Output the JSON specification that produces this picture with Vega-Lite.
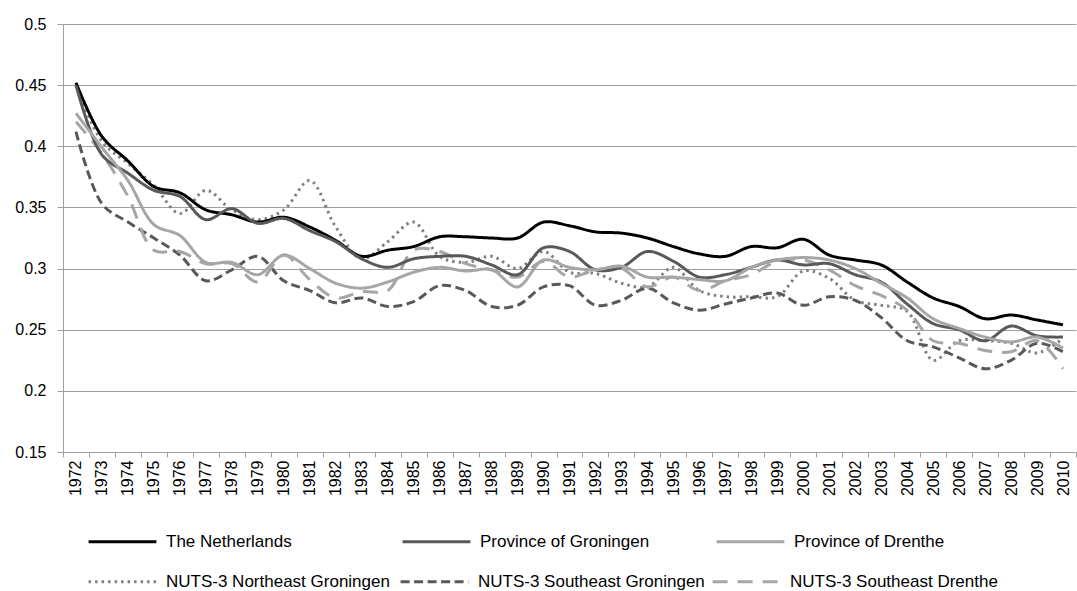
{
  "$schema": "https://vega.github.io/schema/vega-lite/v6.json",
  "width": 1013,
  "height": 428,
  "autosize": {"type": "none"},
  "padding": {"left": 63, "top": 24, "right": 1, "bottom": 139},
  "background": "white",
  "config": {"view": {"stroke": null}, "font": "Liberation Sans"},
  "data": {"values": [
    {"year":1972,"series":"The Netherlands","value":0.452},{"year":1972,"series":"Province of Groningen","value":0.450},{"year":1972,"series":"Province of Drenthe","value":0.427},{"year":1972,"series":"NUTS-3 Northeast Groningen","value":0.450},{"year":1972,"series":"NUTS-3 Southeast Groningen","value":0.412},{"year":1972,"series":"NUTS-3 Southeast Drenthe","value":0.420},
    {"year":1973,"series":"The Netherlands","value":0.408},{"year":1973,"series":"Province of Groningen","value":0.393},{"year":1973,"series":"Province of Drenthe","value":0.399},{"year":1973,"series":"NUTS-3 Northeast Groningen","value":0.404},{"year":1973,"series":"NUTS-3 Southeast Groningen","value":0.353},{"year":1973,"series":"NUTS-3 Southeast Drenthe","value":0.394},
    {"year":1974,"series":"The Netherlands","value":0.388},{"year":1974,"series":"Province of Groningen","value":0.378},{"year":1974,"series":"Province of Drenthe","value":0.372},{"year":1974,"series":"NUTS-3 Northeast Groningen","value":0.386},{"year":1974,"series":"NUTS-3 Southeast Groningen","value":0.338},{"year":1974,"series":"NUTS-3 Southeast Drenthe","value":0.359},
    {"year":1975,"series":"The Netherlands","value":0.367},{"year":1975,"series":"Province of Groningen","value":0.364},{"year":1975,"series":"Province of Drenthe","value":0.336},{"year":1975,"series":"NUTS-3 Northeast Groningen","value":0.368},{"year":1975,"series":"NUTS-3 Southeast Groningen","value":0.325},{"year":1975,"series":"NUTS-3 Southeast Drenthe","value":0.315},
    {"year":1976,"series":"The Netherlands","value":0.362},{"year":1976,"series":"Province of Groningen","value":0.359},{"year":1976,"series":"Province of Drenthe","value":0.327},{"year":1976,"series":"NUTS-3 Northeast Groningen","value":0.345},{"year":1976,"series":"NUTS-3 Southeast Groningen","value":0.311},{"year":1976,"series":"NUTS-3 Southeast Drenthe","value":0.314},
    {"year":1977,"series":"The Netherlands","value":0.348},{"year":1977,"series":"Province of Groningen","value":0.340},{"year":1977,"series":"Province of Drenthe","value":0.305},{"year":1977,"series":"NUTS-3 Northeast Groningen","value":0.364},{"year":1977,"series":"NUTS-3 Southeast Groningen","value":0.290},{"year":1977,"series":"NUTS-3 Southeast Drenthe","value":0.304},
    {"year":1978,"series":"The Netherlands","value":0.344},{"year":1978,"series":"Province of Groningen","value":0.349},{"year":1978,"series":"Province of Drenthe","value":0.305},{"year":1978,"series":"NUTS-3 Northeast Groningen","value":0.348},{"year":1978,"series":"NUTS-3 Southeast Groningen","value":0.299},{"year":1978,"series":"NUTS-3 Southeast Drenthe","value":0.304},
    {"year":1979,"series":"The Netherlands","value":0.338},{"year":1979,"series":"Province of Groningen","value":0.337},{"year":1979,"series":"Province of Drenthe","value":0.295},{"year":1979,"series":"NUTS-3 Northeast Groningen","value":0.340},{"year":1979,"series":"NUTS-3 Southeast Groningen","value":0.310},{"year":1979,"series":"NUTS-3 Southeast Drenthe","value":0.289},
    {"year":1980,"series":"The Netherlands","value":0.342},{"year":1980,"series":"Province of Groningen","value":0.341},{"year":1980,"series":"Province of Drenthe","value":0.311},{"year":1980,"series":"NUTS-3 Northeast Groningen","value":0.348},{"year":1980,"series":"NUTS-3 Southeast Groningen","value":0.290},{"year":1980,"series":"NUTS-3 Southeast Drenthe","value":0.311},
    {"year":1981,"series":"The Netherlands","value":0.334},{"year":1981,"series":"Province of Groningen","value":0.331},{"year":1981,"series":"Province of Drenthe","value":0.300},{"year":1981,"series":"NUTS-3 Northeast Groningen","value":0.372},{"year":1981,"series":"NUTS-3 Southeast Groningen","value":0.282},{"year":1981,"series":"NUTS-3 Southeast Drenthe","value":0.291},
    {"year":1982,"series":"The Netherlands","value":0.323},{"year":1982,"series":"Province of Groningen","value":0.322},{"year":1982,"series":"Province of Drenthe","value":0.288},{"year":1982,"series":"NUTS-3 Northeast Groningen","value":0.334},{"year":1982,"series":"NUTS-3 Southeast Groningen","value":0.272},{"year":1982,"series":"NUTS-3 Southeast Drenthe","value":0.276},
    {"year":1983,"series":"The Netherlands","value":0.310},{"year":1983,"series":"Province of Groningen","value":0.308},{"year":1983,"series":"Province of Drenthe","value":0.284},{"year":1983,"series":"NUTS-3 Northeast Groningen","value":0.308},{"year":1983,"series":"NUTS-3 Southeast Groningen","value":0.276},{"year":1983,"series":"NUTS-3 Southeast Drenthe","value":0.281},
    {"year":1984,"series":"The Netherlands","value":0.315},{"year":1984,"series":"Province of Groningen","value":0.301},{"year":1984,"series":"Province of Drenthe","value":0.289},{"year":1984,"series":"NUTS-3 Northeast Groningen","value":0.322},{"year":1984,"series":"NUTS-3 Southeast Groningen","value":0.269},{"year":1984,"series":"NUTS-3 Southeast Drenthe","value":0.282},
    {"year":1985,"series":"The Netherlands","value":0.318},{"year":1985,"series":"Province of Groningen","value":0.308},{"year":1985,"series":"Province of Drenthe","value":0.297},{"year":1985,"series":"NUTS-3 Northeast Groningen","value":0.338},{"year":1985,"series":"NUTS-3 Southeast Groningen","value":0.273},{"year":1985,"series":"NUTS-3 Southeast Drenthe","value":0.315},
    {"year":1986,"series":"The Netherlands","value":0.326},{"year":1986,"series":"Province of Groningen","value":0.310},{"year":1986,"series":"Province of Drenthe","value":0.301},{"year":1986,"series":"NUTS-3 Northeast Groningen","value":0.310},{"year":1986,"series":"NUTS-3 Southeast Groningen","value":0.286},{"year":1986,"series":"NUTS-3 Southeast Drenthe","value":0.314},
    {"year":1987,"series":"The Netherlands","value":0.326},{"year":1987,"series":"Province of Groningen","value":0.310},{"year":1987,"series":"Province of Drenthe","value":0.298},{"year":1987,"series":"NUTS-3 Northeast Groningen","value":0.305},{"year":1987,"series":"NUTS-3 Southeast Groningen","value":0.282},{"year":1987,"series":"NUTS-3 Southeast Drenthe","value":0.304},
    {"year":1988,"series":"The Netherlands","value":0.325},{"year":1988,"series":"Province of Groningen","value":0.303},{"year":1988,"series":"Province of Drenthe","value":0.299},{"year":1988,"series":"NUTS-3 Northeast Groningen","value":0.310},{"year":1988,"series":"NUTS-3 Southeast Groningen","value":0.269},{"year":1988,"series":"NUTS-3 Southeast Drenthe","value":0.299},
    {"year":1989,"series":"The Netherlands","value":0.325},{"year":1989,"series":"Province of Groningen","value":0.295},{"year":1989,"series":"Province of Drenthe","value":0.285},{"year":1989,"series":"NUTS-3 Northeast Groningen","value":0.300},{"year":1989,"series":"NUTS-3 Southeast Groningen","value":0.270},{"year":1989,"series":"NUTS-3 Southeast Drenthe","value":0.293},
    {"year":1990,"series":"The Netherlands","value":0.338},{"year":1990,"series":"Province of Groningen","value":0.317},{"year":1990,"series":"Province of Drenthe","value":0.307},{"year":1990,"series":"NUTS-3 Northeast Groningen","value":0.314},{"year":1990,"series":"NUTS-3 Southeast Groningen","value":0.285},{"year":1990,"series":"NUTS-3 Southeast Drenthe","value":0.306},
    {"year":1991,"series":"The Netherlands","value":0.335},{"year":1991,"series":"Province of Groningen","value":0.314},{"year":1991,"series":"Province of Drenthe","value":0.301},{"year":1991,"series":"NUTS-3 Northeast Groningen","value":0.297},{"year":1991,"series":"NUTS-3 Southeast Groningen","value":0.286},{"year":1991,"series":"NUTS-3 Southeast Drenthe","value":0.293},
    {"year":1992,"series":"The Netherlands","value":0.330},{"year":1992,"series":"Province of Groningen","value":0.299},{"year":1992,"series":"Province of Drenthe","value":0.299},{"year":1992,"series":"NUTS-3 Northeast Groningen","value":0.296},{"year":1992,"series":"NUTS-3 Southeast Groningen","value":0.270},{"year":1992,"series":"NUTS-3 Southeast Drenthe","value":0.299},
    {"year":1993,"series":"The Netherlands","value":0.329},{"year":1993,"series":"Province of Groningen","value":0.301},{"year":1993,"series":"Province of Drenthe","value":0.302},{"year":1993,"series":"NUTS-3 Northeast Groningen","value":0.288},{"year":1993,"series":"NUTS-3 Southeast Groningen","value":0.274},{"year":1993,"series":"NUTS-3 Southeast Drenthe","value":0.300},
    {"year":1994,"series":"The Netherlands","value":0.325},{"year":1994,"series":"Province of Groningen","value":0.314},{"year":1994,"series":"Province of Drenthe","value":0.293},{"year":1994,"series":"NUTS-3 Northeast Groningen","value":0.285},{"year":1994,"series":"NUTS-3 Southeast Groningen","value":0.284},{"year":1994,"series":"NUTS-3 Southeast Drenthe","value":0.285},
    {"year":1995,"series":"The Netherlands","value":0.318},{"year":1995,"series":"Province of Groningen","value":0.306},{"year":1995,"series":"Province of Drenthe","value":0.293},{"year":1995,"series":"NUTS-3 Northeast Groningen","value":0.301},{"year":1995,"series":"NUTS-3 Southeast Groningen","value":0.272},{"year":1995,"series":"NUTS-3 Southeast Drenthe","value":0.293},
    {"year":1996,"series":"The Netherlands","value":0.312},{"year":1996,"series":"Province of Groningen","value":0.293},{"year":1996,"series":"Province of Drenthe","value":0.291},{"year":1996,"series":"NUTS-3 Northeast Groningen","value":0.282},{"year":1996,"series":"NUTS-3 Southeast Groningen","value":0.266},{"year":1996,"series":"NUTS-3 Southeast Drenthe","value":0.282},
    {"year":1997,"series":"The Netherlands","value":0.310},{"year":1997,"series":"Province of Groningen","value":0.295},{"year":1997,"series":"Province of Drenthe","value":0.290},{"year":1997,"series":"NUTS-3 Northeast Groningen","value":0.277},{"year":1997,"series":"NUTS-3 Southeast Groningen","value":0.271},{"year":1997,"series":"NUTS-3 Southeast Drenthe","value":0.290},
    {"year":1998,"series":"The Netherlands","value":0.318},{"year":1998,"series":"Province of Groningen","value":0.301},{"year":1998,"series":"Province of Drenthe","value":0.301},{"year":1998,"series":"NUTS-3 Northeast Groningen","value":0.277},{"year":1998,"series":"NUTS-3 Southeast Groningen","value":0.276},{"year":1998,"series":"NUTS-3 Southeast Drenthe","value":0.295},
    {"year":1999,"series":"The Netherlands","value":0.317},{"year":1999,"series":"Province of Groningen","value":0.307},{"year":1999,"series":"Province of Drenthe","value":0.307},{"year":1999,"series":"NUTS-3 Northeast Groningen","value":0.277},{"year":1999,"series":"NUTS-3 Southeast Groningen","value":0.280},{"year":1999,"series":"NUTS-3 Southeast Drenthe","value":0.306},
    {"year":2000,"series":"The Netherlands","value":0.324},{"year":2000,"series":"Province of Groningen","value":0.303},{"year":2000,"series":"Province of Drenthe","value":0.309},{"year":2000,"series":"NUTS-3 Northeast Groningen","value":0.298},{"year":2000,"series":"NUTS-3 Southeast Groningen","value":0.270},{"year":2000,"series":"NUTS-3 Southeast Drenthe","value":0.307},
    {"year":2001,"series":"The Netherlands","value":0.311},{"year":2001,"series":"Province of Groningen","value":0.304},{"year":2001,"series":"Province of Drenthe","value":0.307},{"year":2001,"series":"NUTS-3 Northeast Groningen","value":0.292},{"year":2001,"series":"NUTS-3 Southeast Groningen","value":0.277},{"year":2001,"series":"NUTS-3 Southeast Drenthe","value":0.299},
    {"year":2002,"series":"The Netherlands","value":0.307},{"year":2002,"series":"Province of Groningen","value":0.295},{"year":2002,"series":"Province of Drenthe","value":0.300},{"year":2002,"series":"NUTS-3 Northeast Groningen","value":0.274},{"year":2002,"series":"NUTS-3 Southeast Groningen","value":0.274},{"year":2002,"series":"NUTS-3 Southeast Drenthe","value":0.286},
    {"year":2003,"series":"The Netherlands","value":0.303},{"year":2003,"series":"Province of Groningen","value":0.289},{"year":2003,"series":"Province of Drenthe","value":0.288},{"year":2003,"series":"NUTS-3 Northeast Groningen","value":0.270},{"year":2003,"series":"NUTS-3 Southeast Groningen","value":0.260},{"year":2003,"series":"NUTS-3 Southeast Drenthe","value":0.278},
    {"year":2004,"series":"The Netherlands","value":0.289},{"year":2004,"series":"Province of Groningen","value":0.271},{"year":2004,"series":"Province of Drenthe","value":0.276},{"year":2004,"series":"NUTS-3 Northeast Groningen","value":0.265},{"year":2004,"series":"NUTS-3 Southeast Groningen","value":0.241},{"year":2004,"series":"NUTS-3 Southeast Drenthe","value":0.266},
    {"year":2005,"series":"The Netherlands","value":0.276},{"year":2005,"series":"Province of Groningen","value":0.255},{"year":2005,"series":"Province of Drenthe","value":0.259},{"year":2005,"series":"NUTS-3 Northeast Groningen","value":0.225},{"year":2005,"series":"NUTS-3 Southeast Groningen","value":0.236},{"year":2005,"series":"NUTS-3 Southeast Drenthe","value":0.241},
    {"year":2006,"series":"The Netherlands","value":0.269},{"year":2006,"series":"Province of Groningen","value":0.250},{"year":2006,"series":"Province of Drenthe","value":0.251},{"year":2006,"series":"NUTS-3 Northeast Groningen","value":0.241},{"year":2006,"series":"NUTS-3 Southeast Groningen","value":0.227},{"year":2006,"series":"NUTS-3 Southeast Drenthe","value":0.239},
    {"year":2007,"series":"The Netherlands","value":0.259},{"year":2007,"series":"Province of Groningen","value":0.241},{"year":2007,"series":"Province of Drenthe","value":0.244},{"year":2007,"series":"NUTS-3 Northeast Groningen","value":0.241},{"year":2007,"series":"NUTS-3 Southeast Groningen","value":0.218},{"year":2007,"series":"NUTS-3 Southeast Drenthe","value":0.233},
    {"year":2008,"series":"The Netherlands","value":0.262},{"year":2008,"series":"Province of Groningen","value":0.253},{"year":2008,"series":"Province of Drenthe","value":0.240},{"year":2008,"series":"NUTS-3 Northeast Groningen","value":0.239},{"year":2008,"series":"NUTS-3 Southeast Groningen","value":0.225},{"year":2008,"series":"NUTS-3 Southeast Drenthe","value":0.232},
    {"year":2009,"series":"The Netherlands","value":0.258},{"year":2009,"series":"Province of Groningen","value":0.245},{"year":2009,"series":"Province of Drenthe","value":0.244},{"year":2009,"series":"NUTS-3 Northeast Groningen","value":0.231},{"year":2009,"series":"NUTS-3 Southeast Groningen","value":0.239},{"year":2009,"series":"NUTS-3 Southeast Drenthe","value":0.241},
    {"year":2010,"series":"The Netherlands","value":0.254},{"year":2010,"series":"Province of Groningen","value":0.244},{"year":2010,"series":"Province of Drenthe","value":0.235},{"year":2010,"series":"NUTS-3 Northeast Groningen","value":0.243},{"year":2010,"series":"NUTS-3 Southeast Groningen","value":0.232},{"year":2010,"series":"NUTS-3 Southeast Drenthe","value":0.218}
  ]},
  "encoding": {
    "x": {
      "field": "year", "type": "ordinal",
      "scale": {"type": "band", "paddingInner": 0, "paddingOuter": 0},
      "bandPosition": 0.5,
      "axis": {"title": null, "labelAngle": -90, "tickBand": "extent", "labelFontSize": 16, "labelColor": "#000000",
               "domainColor": "#a0a0a0", "tickColor": "#a0a0a0", "tickSize": 5, "labelPadding": 3, "grid": false}
    },
    "y": {
      "field": "value", "type": "quantitative",
      "scale": {"domain": [0.15, 0.5], "nice": false, "zero": false},
      "axis": {"title": null, "values": [0.15, 0.2, 0.25, 0.3, 0.35, 0.4, 0.45, 0.5], "format": ".2~f",
               "labelFontSize": 16, "labelColor": "#000000", "domainColor": "#a0a0a0", "tickColor": "#a0a0a0",
               "tickSize": 6, "labelPadding": 11, "grid": true, "gridColor": "#a0a0a0", "gridWidth": 1}
    }
  },
  "layer": [
    {
      "transform": [{"filter": {"field": "series", "oneOf": ["NUTS-3 Northeast Groningen", "NUTS-3 Southeast Groningen", "NUTS-3 Southeast Drenthe"]}}],
      "mark": {"type": "line", "interpolate": "catmull-rom", "strokeWidth": 3},
      "encoding": {
        "color": {
          "field": "series", "type": "nominal",
          "scale": {"domain": ["NUTS-3 Northeast Groningen", "NUTS-3 Southeast Groningen", "NUTS-3 Southeast Drenthe"], "range": ["#808080", "#595959", "#a6a6a6"]},
          "legend": {"title": null, "orient": "none", "legendX": 24, "legendY": 522, "direction": "horizontal", "columns": 3,
                     "symbolType": "stroke", "symbolSize": 4600, "symbolStrokeWidth": 3, "labelFont": "Liberation Sans",
                     "labelFontSize": 17, "labelColor": "#000000", "labelOffset": 8, "columnPadding": 1,
                     "gridAlign": "all", "labelLimit": 320, "padding": 0}
        },
        "strokeDash": {
          "field": "series", "type": "nominal",
          "scale": {"domain": ["NUTS-3 Northeast Groningen", "NUTS-3 Southeast Groningen", "NUTS-3 Southeast Drenthe"], "range": [[2.5, 4], [9, 4.5], [15, 10]]},
          "legend": {"title": null, "orient": "none", "legendX": 24, "legendY": 522, "direction": "horizontal", "columns": 3,
                     "symbolType": "stroke", "symbolSize": 4600, "symbolStrokeWidth": 3, "labelFont": "Liberation Sans",
                     "labelFontSize": 17, "labelColor": "#000000", "labelOffset": 8, "columnPadding": 1,
                     "gridAlign": "all", "labelLimit": 320, "padding": 0}
        }
      }
    },
    {
      "transform": [{"filter": {"field": "series", "oneOf": ["The Netherlands", "Province of Groningen", "Province of Drenthe"]}}],
      "mark": {"type": "line", "interpolate": "catmull-rom", "strokeWidth": 3},
      "encoding": {
        "color": {
          "field": "series", "type": "nominal",
          "scale": {"domain": ["The Netherlands", "Province of Groningen", "Province of Drenthe"], "range": ["#000000", "#595959", "#a6a6a6"]},
          "legend": {"title": null, "orient": "none", "legendX": 24, "legendY": 482, "direction": "horizontal", "columns": 3,
                     "symbolType": "stroke", "symbolSize": 4600, "symbolStrokeWidth": 3, "labelFont": "Liberation Sans",
                     "labelFontSize": 17, "labelColor": "#000000", "labelOffset": 8, "columnPadding": 60,
                     "gridAlign": "all", "labelLimit": 320, "padding": 0}
        },
        "strokeDash": {
          "field": "series", "type": "nominal",
          "scale": {"domain": ["The Netherlands", "Province of Groningen", "Province of Drenthe"], "range": [[1, 0], [1, 0], [1, 0]]},
          "legend": {"title": null, "orient": "none", "legendX": 24, "legendY": 482, "direction": "horizontal", "columns": 3,
                     "symbolType": "stroke", "symbolSize": 4600, "symbolStrokeWidth": 3, "labelFont": "Liberation Sans",
                     "labelFontSize": 17, "labelColor": "#000000", "labelOffset": 8, "columnPadding": 60,
                     "gridAlign": "all", "labelLimit": 320, "padding": 0}
        }
      }
    }
  ],
  "resolve": {"scale": {"color": "independent", "strokeDash": "independent"}, "legend": {"color": "independent", "strokeDash": "independent"}}
}
